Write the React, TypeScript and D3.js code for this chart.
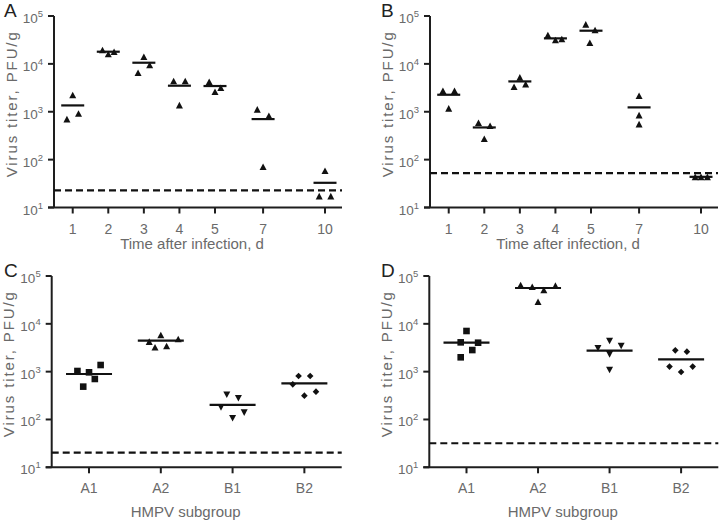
import React from "react";
import * as d3 from "d3";

// ---------- data ----------
const days = [1, 2, 3, 4, 5, 7, 10];
const subgroups = ["A1", "A2", "B1", "B2"];
const yTickValues = [10, 100, 1000, 10000, 100000];

const titersA = [
  [2230, 703, 922],
  [19450, 16070, 17950],
  [14130, 6530, 9460],
  [4375, 4375, 1377],
  [4240, 2620, 3180],
  [1120, 824, 71],
  [58.5, 17.3, 17.3],
];
const meansA = [1356, 17950, 10570, 3500, 3445, 703, 32.8];
const jitterA = [[0, -1, 1], [-1, 0, 1], [0, -1, 1], [-1, 1, 0], [-1, 0, 1], [-1, 1, 0], [0, -1, 1]];
const limitA = 22.7;

const titersB = [
  [2750, 2750, 1175],
  [589, 510, 273],
  [5230, 3335, 3785],
  [40100, 31500, 33000],
  [67000, 50900, 27700],
  [2160, 851, 552],
  [43.7, 43.7, 43.7],
];
const meansB = [2265, 470, 4300, 34100, 49300, 1233, 43.7];
const jitterB = [[-1, 1, 0], [-1, 1, 0], [0, -1, 1], [-1.3, 0, 1.1], [-0.9, 0.7, -0.2], [0, 0, 0], [-1, 0, 1.1]];
const limitB = 52.2;

const titersC = [
  [1032, 486, 968, 703, 1377],
  [4240, 3227, 5850, 3445, 4820],
  [179, 330, 106, 277, 139],
  [543, 811, 315, 811, 382],
];
const meansC = [893, 4447, 201, 570];
const jitterC = [[-2, -1, 0, 1, 2], [-2, -1, 0, 1, 3], [-2, -1, 0, 1, 2], [-2, -1, 0, 1, 2]];
const limitC = 20.3;

const titersD = [
  [4100, 1995, 7080, 2830, 4030],
  [64800, 59800, 50900, 62800, 29000],
  [3075, 4375, 2300, 3445, 1083],
  [1274, 2790, 984, 2620, 1274],
];
const meansD = [4030, 56100, 2750, 1810];
const jitterD = [[-1, -1, 0, 1, 2], [-3, -1, 1, 3, 0], [-2, 0, 0, 2, 0], [-2, -1, 0, 1, 2]];
const limitD = 31.8;

const subgroupShapes = ["square", "triangle", "down", "diamond"];

// ---------- style ----------
const FONT = "'Liberation Sans', Arial, Helvetica, sans-serif";
const TEXT = "#6a6a6a";
const AXIS = "#1e1e1e";
const INK = "#111";
const SLOT = 5.8;

function shapePath(kind: string): string {
  const w = 7, h = 6.6;
  if (kind === "square") { const s = 6.6 / 2; return `M${-s},${-s}H${s}V${s}H${-s}Z`; }
  if (kind === "triangle") return `M0,${-h / 2}L${w / 2},${h / 2}L${-w / 2},${h / 2}Z`;
  if (kind === "down") return `M0,${h / 2}L${w / 2},${-h / 2}L${-w / 2},${-h / 2}Z`;
  const d = 3.3;
  return `M0,${-d}L${d},0L0,${d}L${-d},0Z`;
}

type PanelProps = {
  letter: string;
  left: number; right: number; top: number; bottom: number;
  categorical: boolean;
  values: number[][];
  means: number[];
  jitter: number[][];
  limit: number;
  xTitle: string;
  meanHalf: number;
};

function Panel(p: PanelProps) {
  const { left, right, top, bottom } = p;
  const width = right - left;
  const y = d3.scaleLog().domain([10, 100000]).range([bottom, top]);
  let xOf: (i: number) => number;
  let labels: string[];
  if (p.categorical) {
    const xs = d3.scalePoint<string>().domain(subgroups).range([left, right]).padding(0.52);
    xOf = (i) => xs(subgroups[i]) as number;
    labels = subgroups;
  } else {
    const xs = d3.scaleLinear()
      .domain([0, 1, 5, 7, 10, 11])
      .range([0, 0.065, 0.559, 0.726, 0.941, 1].map((f) => left + f * width));
    xOf = (i) => xs(days[i]);
    labels = days.map(String);
  }
  const cx = (left + right) / 2;
  const cy = (top + bottom) / 2;
  return (
    <g>
      <text x={p.letter === "A" || p.letter === "C" ? 4 : 381} y={top + 1} fontSize={19} fill="#222" fontFamily={FONT}>{p.letter}</text>
      {/* y axis */}
      <line x1={left} x2={left} y1={top} y2={bottom} stroke={AXIS} strokeWidth={2} />
      {yTickValues.map((v) => {
        const exp = Math.round(Math.log10(v));
        return (
          <g key={v}>
            <line x1={left - 6} x2={left} y1={y(v)} y2={y(v)} stroke={AXIS} strokeWidth={2} />
            <text x={left - 11} y={y(v) + 7} textAnchor="end" fontSize={13.5} fill={TEXT} fontFamily={FONT}>
              10<tspan dy={-6} fontSize={9.5}>{exp}</tspan>
            </text>
          </g>
        );
      })}
      {/* x axis */}
      <line x1={left - 6} x2={right} y1={bottom} y2={bottom} stroke={AXIS} strokeWidth={2} />
      {labels.map((lab, i) => (
        <g key={lab}>
          <line x1={xOf(i)} x2={xOf(i)} y1={bottom} y2={bottom + 6} stroke={AXIS} strokeWidth={2} />
          <text x={xOf(i)} y={bottom + 26} textAnchor="middle" fontSize={14} fill={TEXT} fontFamily={FONT}>{lab}</text>
        </g>
      ))}
      <text x={cx - (p.categorical ? 11 : 6)} y={bottom + (p.categorical ? 50 : 41.5)} textAnchor="middle" fontSize={15} fill={TEXT} fontFamily={FONT}>{p.xTitle}</text>
      <text transform={`translate(${left - 43},${cy - 7}) rotate(-90)`} textAnchor="middle" dominantBaseline="central"
        fontSize={15} fill={TEXT} fontFamily={FONT} textLength={145} lengthAdjust="spacing">Virus titer, PFU/g</text>
      {/* detection limit */}
      <line x1={left} x2={right} y1={y(p.limit)} y2={y(p.limit)} stroke={INK} strokeWidth={2.2} strokeDasharray="7,4" />
      {/* points */}
      {p.values.map((grp, i) => (
        <g key={i}>
          {grp.map((v, j) => (
            <path key={j} d={shapePath(p.categorical ? subgroupShapes[i] : "triangle")}
              transform={`translate(${xOf(i) + p.jitter[i][j] * SLOT},${y(v)})`} fill={INK} />
          ))}
          <line x1={xOf(i) - p.meanHalf} x2={xOf(i) + p.meanHalf} y1={y(p.means[i])} y2={y(p.means[i])} stroke={INK} strokeWidth={2.2} />
        </g>
      ))}
    </g>
  );
}

export default function App() {
  return (
    <svg width={720} height={522} style={{ position: "absolute", left: 0, top: 0, background: "#fff" }}>
      <rect width={720} height={522} fill="#fff" />
      <Panel letter="A" left={54} right={342} top={16} bottom={207.5} categorical={false}
        values={titersA} means={meansA} jitter={jitterA} limit={limitA} xTitle="Time after infection, d" meanHalf={11.5} />
      <Panel letter="B" left={430} right={718} top={16} bottom={207.5} categorical={false}
        values={titersB} means={meansB} jitter={jitterB} limit={limitB} xTitle="Time after infection, d" meanHalf={11.5} />
      <Panel letter="C" left={51.7} right={341.7} top={276} bottom={467.3} categorical={true}
        values={titersC} means={meansC} jitter={jitterC} limit={limitC} xTitle="HMPV subgroup" meanHalf={23} />
      <Panel letter="D" left={429.3} right={718.3} top={276} bottom={467.3} categorical={true}
        values={titersD} means={meansD} jitter={jitterD} limit={limitD} xTitle="HMPV subgroup" meanHalf={23} />
    </svg>
  );
}
